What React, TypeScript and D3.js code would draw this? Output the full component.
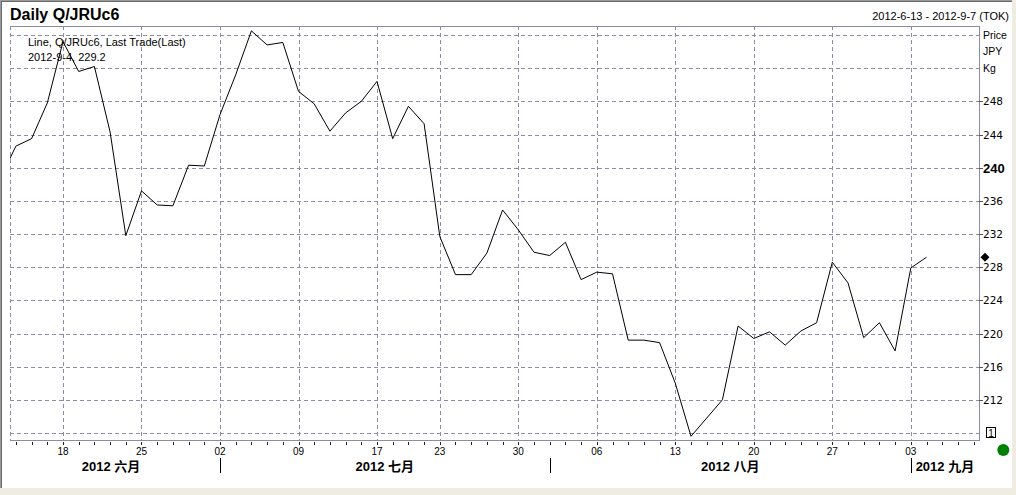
import React from 'react';
import * as d3 from 'd3';

const tradingDays: string[] = [
  '2012-06-12', '2012-06-13', '2012-06-14', '2012-06-15', '2012-06-18', '2012-06-19', '2012-06-20',
  '2012-06-21', '2012-06-22', '2012-06-25', '2012-06-26', '2012-06-27', '2012-06-28', '2012-06-29',
  '2012-07-02', '2012-07-03', '2012-07-04', '2012-07-05', '2012-07-06', '2012-07-09', '2012-07-10',
  '2012-07-11', '2012-07-12', '2012-07-13', '2012-07-17', '2012-07-18', '2012-07-19', '2012-07-20',
  '2012-07-23', '2012-07-24', '2012-07-25', '2012-07-26', '2012-07-27', '2012-07-30', '2012-07-31',
  '2012-08-01', '2012-08-02', '2012-08-03', '2012-08-06', '2012-08-07', '2012-08-08', '2012-08-09',
  '2012-08-10', '2012-08-13', '2012-08-14', '2012-08-15', '2012-08-16', '2012-08-17', '2012-08-20',
  '2012-08-21', '2012-08-22', '2012-08-23', '2012-08-24', '2012-08-27', '2012-08-28', '2012-08-29',
  '2012-08-30', '2012-08-31', '2012-09-03', '2012-09-04', '2012-09-05', '2012-09-06', '2012-09-07',
];

const prices: number[] = [
  238.7, 242.6, 243.5, 247.8, 255.2, 251.6, 252.2, 244.3, 231.8, 237.2, 235.5, 235.4, 240.3, 240.2,
  246.4, 251.2, 256.5, 254.8, 255.1, 249.2, 247.7, 244.4, 246.6, 248.0, 250.4, 243.5, 247.4, 245.3,
  231.7, 227.1, 227.1, 229.7, 234.9, 232.5, 229.8,
  229.4, 231.0, 226.5, 227.4, 227.2, 219.2, 219.2, 218.9, 214.0, 207.6, 209.8, 212.0, 220.9, 219.4,
  220.2, 218.6, 220.3, 221.3, 228.6, 226.1, 219.5, 221.3, 217.9,
  227.9, 229.2,
];

const weekTicks: string[] = [
  '2012-06-18', '2012-06-25', '2012-07-02', '2012-07-09', '2012-07-17', '2012-07-23',
  '2012-07-30', '2012-08-06', '2012-08-13', '2012-08-20', '2012-08-27', '2012-09-03',
];

const gridValues: number[] = [208, 212, 216, 220, 224, 228, 232, 236, 240, 244, 248, 252, 256];
const priceLabels: number[] = [212, 216, 220, 224, 228, 232, 236, 240, 244, 248];
const boldPrice = 240;
const monthNames: Record<string, string> = { '06': '六月', '07': '七月', '08': '八月', '09': '九月' };
const titleText = 'Daily Q/JRUc6';
const rangeText = '2012-6-13 - 2012-9-7 (TOK)';
const legendLines: string[] = ['Line, Q/JRUc6, Last Trade(Last)', '2012-9-4, 229.2'];
const unitLabels: string[] = ['Price', 'JPY', 'Kg'];
const lastValue = 229.2;

const FONT = 'Arial, "Liberation Sans", sans-serif';
const GRID = '#8e8ca2';

export default function App() {
  const W = 1016, H = 495;
  const left = 10, right = 979, top = 26, bottom = 440;

  const x = d3.scalePoint<string>().domain(tradingDays).range([0.2, 973.6]);
  const y = d3.scaleLinear().domain([208, 256]).range([433, 35]);

  const linePath = d3.line<number>()
    .x((_, i) => x(tradingDays[i]) as number)
    .y((d) => y(d))(prices) || '';

  const months = Array.from(new Set(tradingDays.map((d) => d.slice(5, 7))));
  const monthStart = months.map((m) => tradingDays.find((d) => d.slice(5, 7) === m) as string);
  const monthInfo = months.map((m, i) => {
    const sx = i === 0 ? 2 : (x(monthStart[i]) as number);
    const ex = i === months.length - 1 ? right : (x(monthStart[i + 1]) as number);
    return { m, sep: i === 0 ? null : sx, cx: (sx + ex) / 2, label: '2012 ' + monthNames[m] };
  });

  const diamond = d3.symbol().type(d3.symbolSquare).size(40)() || '';

  return (
    <svg width={W} height={H} style={{ position: 'absolute', left: 0, top: 0, display: 'block' }}
      fontFamily={FONT}>
      <defs>
        <clipPath id="plotclip">
          <rect x={left} y={top} width={right - left} height={bottom - top} />
        </clipPath>
      </defs>
      <rect x={0} y={0} width={W} height={H} fill="#efede2" />
      <rect x={0} y={0} width={1012} height={488} fill="#9a9a9a" />
      <rect x={1} y={1} width={1011} height={487} fill="#6a6a6a" />
      <rect x={2} y={2} width={1010} height={486} fill="#ffffff" />

      <text x={10} y={20} fontSize={16} fontWeight="bold" fill="#000">{titleText}</text>
      <text x={1009} y={20} fontSize={11} textAnchor="end" fill="#000">{rangeText}</text>

      {/* grid */}
      {gridValues.map((v) => (
        <line key={'h' + v} x1={left} x2={right} y1={Math.round(y(v)) + 0.5} y2={Math.round(y(v)) + 0.5}
          stroke={GRID} strokeWidth={1} strokeDasharray="4,3" />
      ))}
      {weekTicks.map((d) => {
        const xx = Math.round(x(d) as number) + 0.5;
        return <line key={'v' + d} x1={xx} x2={xx} y1={top} y2={bottom} stroke={GRID} strokeWidth={1} strokeDasharray="4,3" />;
      })}
      <line x1={left + 0.5} x2={left + 0.5} y1={top} y2={bottom} stroke={GRID} strokeWidth={1} strokeDasharray="4,3" />

      {/* frame */}
      <line x1={left} x2={right + 1} y1={top + 0.5} y2={top + 0.5} stroke={GRID} strokeWidth={1} />
      <line x1={left} x2={right + 1} y1={bottom + 0.5} y2={bottom + 0.5} stroke={GRID} strokeWidth={1} />
      <line x1={right + 0.5} x2={right + 0.5} y1={top} y2={bottom + 1} stroke={GRID} strokeWidth={1} />

      {/* price line */}
      <g clipPath="url(#plotclip)">
        <path d={linePath} fill="none" stroke="#000" strokeWidth={1} />
      </g>

      {/* legend */}
      {legendLines.map((t, i) => (
        <text key={t} x={28} y={46 + i * 15} fontSize={11} fill="#000">{t}</text>
      ))}

      {/* right axis */}
      {priceLabels.map((v) => {
        const yy = Math.round(y(v)) + 0.5;
        return (
          <g key={'p' + v}>
            <line x1={right} x2={right + 4} y1={yy} y2={yy} stroke="#555" strokeWidth={1} />
            {v === boldPrice ? (
              <text x={right + 4} y={yy} dy="0.36em" fontSize={13} fontWeight="bold" fill="#000">{v}</text>
            ) : (
              <text x={right + 4} y={yy} dy="0.36em" fontSize={10.5} fontFamily='"DejaVu Sans", sans-serif' fill="#000">{v}</text>
            )}
          </g>
        );
      })}
      {unitLabels.map((t, i) => (
        <text key={t} x={right + 4} y={y(256) + i * ((y(252) - y(256)) / 2)} dy="0.36em" fontSize={10.5} fill="#000">{t}</text>
      ))}
      <rect x={986.5} y={427.5} width={9} height={10} fill="#fff" stroke="#000" strokeWidth={1} />
      <text x={991} y={433} dy="0.36em" fontSize={10} textAnchor="middle" fill="#000">1</text>
      <path d={diamond} transform={`translate(985,${y(lastValue)}) rotate(45)`} fill="#000" />

      {/* bottom axis */}
      {tradingDays.map((d) => {
        const xx = Math.round(x(d) as number) + 0.5;
        if (xx < left || xx > right) return null;
        return <line key={'t' + d} x1={xx} x2={xx} y1={442} y2={445} stroke="#222" strokeWidth={1} />;
      })}
      {weekTicks.map((d) => (
        <text key={'l' + d} x={x(d) as number} y={455} fontSize={10} textAnchor="middle" fill="#000">{d.slice(8, 10)}</text>
      ))}
      {monthInfo.map((mi) => (
        <g key={'m' + mi.m}>
          {mi.sep !== null && (
            <line x1={Math.round(mi.sep) + 0.5} x2={Math.round(mi.sep) + 0.5} y1={458} y2={473} stroke="#000" strokeWidth={1} />
          )}
          <text x={mi.cx} y={471} fontSize={13} fontWeight="bold" textAnchor="middle" fill="#000"
            fontFamily='Arial, "Liberation Sans", "Noto Sans CJK SC", sans-serif'>{mi.label}</text>
        </g>
      ))}

      <circle cx={1003.3} cy={450} r={6} fill="#008000" />
    </svg>
  );
}
